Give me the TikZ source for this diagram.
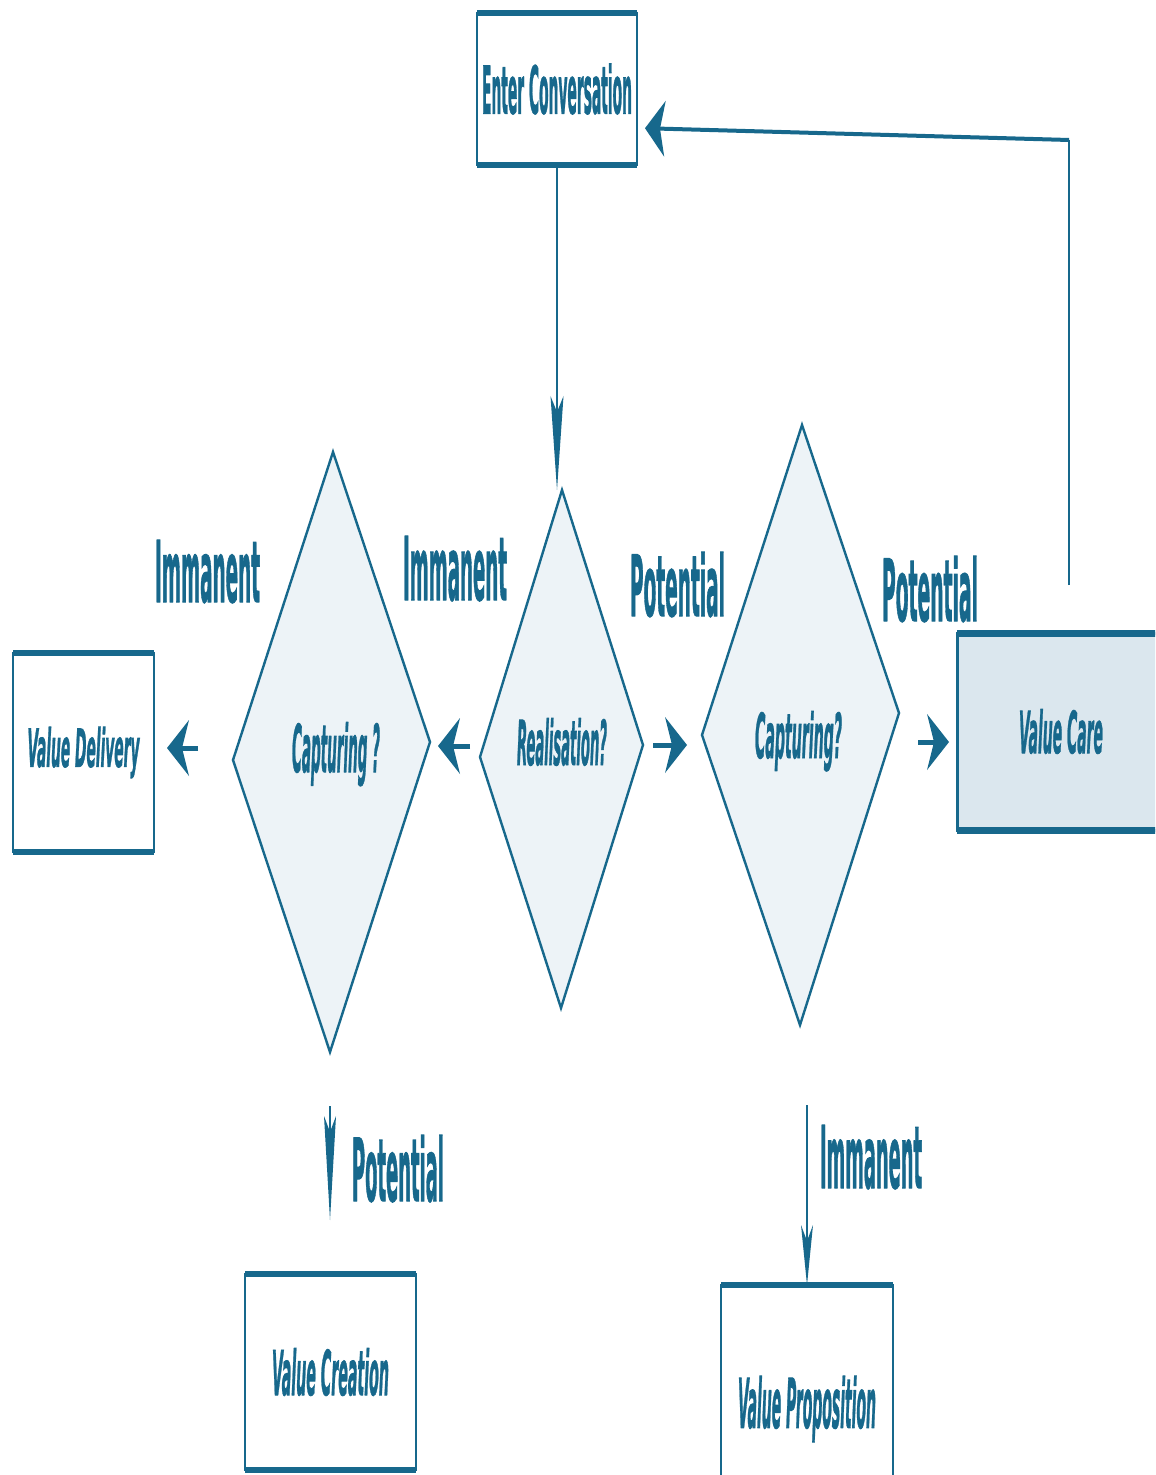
\documentclass[tikz,border=0pt]{standalone}
\usepackage{fontspec}
\setmainfont{DejaVu Sans Condensed}[BoldFeatures={FakeBold=1.5},BoldItalicFeatures={FakeBold=1.5}]
\usetikzlibrary{arrows.meta}
\definecolor{main}{HTML}{17688C}
\definecolor{diafill}{HTML}{EDF3F7}
\definecolor{carefill}{HTML}{DBE7EE}
\newlength\upx
\setlength\upx{0.5pt}
\newcommand\lbl[3]{\resizebox{#1\upx}{#2\upx}{\bfseries #3}}
\newcommand\lbli[3]{\resizebox{#1\upx}{#2\upx}{\bfseries\itshape #3}}
\begin{document}
\begin{tikzpicture}[x=0.5pt,y=-0.5pt,
  every node/.style={text=main, inner sep=0pt, outer sep=0pt},
  vbox/.style={draw=main, line width=1pt, fill=white, rectangle},
  edgeline/.style={draw=main, line width=3pt},
  dia/.style={draw=main, line width=1.2pt, fill=diafill, line join=miter},
  bigarrow/.style={draw=main, line width=2.5pt, -{Stealth[length=11pt,width=28pt,inset=3.5pt,line width=0pt]}},
  fbarrow/.style={draw=main, line width=2pt, -{Stealth[length=10pt,width=28pt,inset=2.5pt,line width=0pt]}},
  thinline/.style={draw=main, line width=1pt},
  thinA/.style={draw=main, line width=0.9pt, -{Stealth[length=47pt,width=6.5pt,inset=8pt,line width=0pt]}},
  thinB/.style={draw=main, line width=0.9pt, -{Stealth[length=52pt,width=6pt,inset=8pt,line width=0pt]}},
  thinC/.style={draw=main, line width=0.9pt, -{Stealth[length=30pt,width=6pt,inset=8pt,line width=0pt]}}
]
\useasboundingbox (0,0) rectangle (1155,1475);
\clip (0,0) rectangle (1155,1475);
\fill[white] (0,0) rectangle (1155,1475);

% diamonds
\coordinate (Lt) at (333,452); \coordinate (Lr) at (430,742);
\coordinate (Lb) at (330,1052); \coordinate (Ll) at (233,760);
\coordinate (Mt) at (562,490); \coordinate (Mr) at (643,745);
\coordinate (Mb) at (561,1008); \coordinate (Ml) at (480,757);
\coordinate (Rt) at (802,425); \coordinate (Rr) at (899,713);
\coordinate (Rb) at (800,1025); \coordinate (Rl) at (702,735);
\draw[dia] (Lt) -- (Lr) -- (Lb) -- (Ll) -- cycle;
\draw[dia] (Mt) -- (Mr) -- (Mb) -- (Ml) -- cycle;
\draw[dia] (Rt) -- (Rr) -- (Rb) -- (Rl) -- cycle;
\node[anchor=base] (Ltx) at (336,772) {\lbli{88}{50}{Capturing ?}};
\node[anchor=base] (Mtx) at (562,765) {\lbli{90}{47}{Realisation?}};
\node[anchor=base] (Rtx) at (798.5,758) {\lbli{87}{47}{Capturing?}};

% boxes
\node[vbox, minimum width=80pt, minimum height=76pt] (ec) at (557,89) {\lbl{150}{50}{Enter Conversation}};
\node[vbox, minimum width=70.5pt, minimum height=99.5pt] (vd) at (83.5,752.5) {\lbli{112}{40}{Value Delivery}};
\node[vbox, fill=carefill, line width=1.5pt, minimum width=104pt, minimum height=98.5pt] (vc) at (1061,731.5) {\lbli{84}{44}{Value Care}};
\node[vbox, minimum width=85.5pt, minimum height=98pt] (vcr) at (330.5,1372) {\lbli{117}{47}{Value Creation}};
\node[vbox, minimum width=86pt, minimum height=124pt] (vp) at (807,1409) {\lbli{138}{52}{Value Proposition}};
\foreach \b in {ec,vd,vcr,vp}{
  \draw[edgeline] (\b.north west) -- (\b.north east);
  \draw[edgeline] (\b.south west) -- (\b.south east);
}
\draw[edgeline, line width=3.5pt] (vc.north west) -- (vc.north east);
\draw[edgeline, line width=3.5pt] (vc.south west) -- (vc.south east);

% short horizontal arrows
\coordinate (a1s) at (470,746); \coordinate (a1e) at (438,746);
\coordinate (a2s) at (198,748); \coordinate (a2e) at (167,748);
\coordinate (a3s) at (653,745); \coordinate (a3e) at (687,745);
\coordinate (a4s) at (918,742); \coordinate (a4e) at (949,742);
\draw[bigarrow] (a1s) -- (a1e);
\draw[bigarrow] (a2s) -- (a2e);
\draw[bigarrow] (a3s) -- (a3e);
\draw[bigarrow] (a4s) -- (a4e);

% vertical arrows
\draw[thinA] (ec.south) -- (ec.south |- Mt);
\draw[thinB, shorten <=27pt, shorten >=27pt] (Lb) -- (Lb |- vcr.north);
\draw[thinC, shorten <=40pt] (Rb -| vp.north) -- (vp.north);

% feedback loop
\coordinate (fbc) at (1069,140);
\draw[thinline] ([yshift=24pt]vc.north -| fbc) -- (fbc);
\draw[fbarrow, shorten >=4pt] (fbc) -- ([yshift=-19.5pt]ec.east);

% labels
\node[anchor=base] (imm1) at (207.5,602) {\lbl{105}{62}{Immanent}};
\node[anchor=base] (imm2) at (455,600) {\lbl{104}{64}{Immanent}};
\node[anchor=base] (pot1) at (677.5,616) {\lbl{95}{64}{Potential}};
\node[anchor=base] (pot2) at (930,621) {\lbl{96}{65}{Potential}};
\node[anchor=base] (pot3) at (398,1201) {\lbl{92}{66}{Potential}};
\node[anchor=base] (imm3) at (871,1188) {\lbl{102}{63}{Immanent}};
\end{tikzpicture}
\end{document}
